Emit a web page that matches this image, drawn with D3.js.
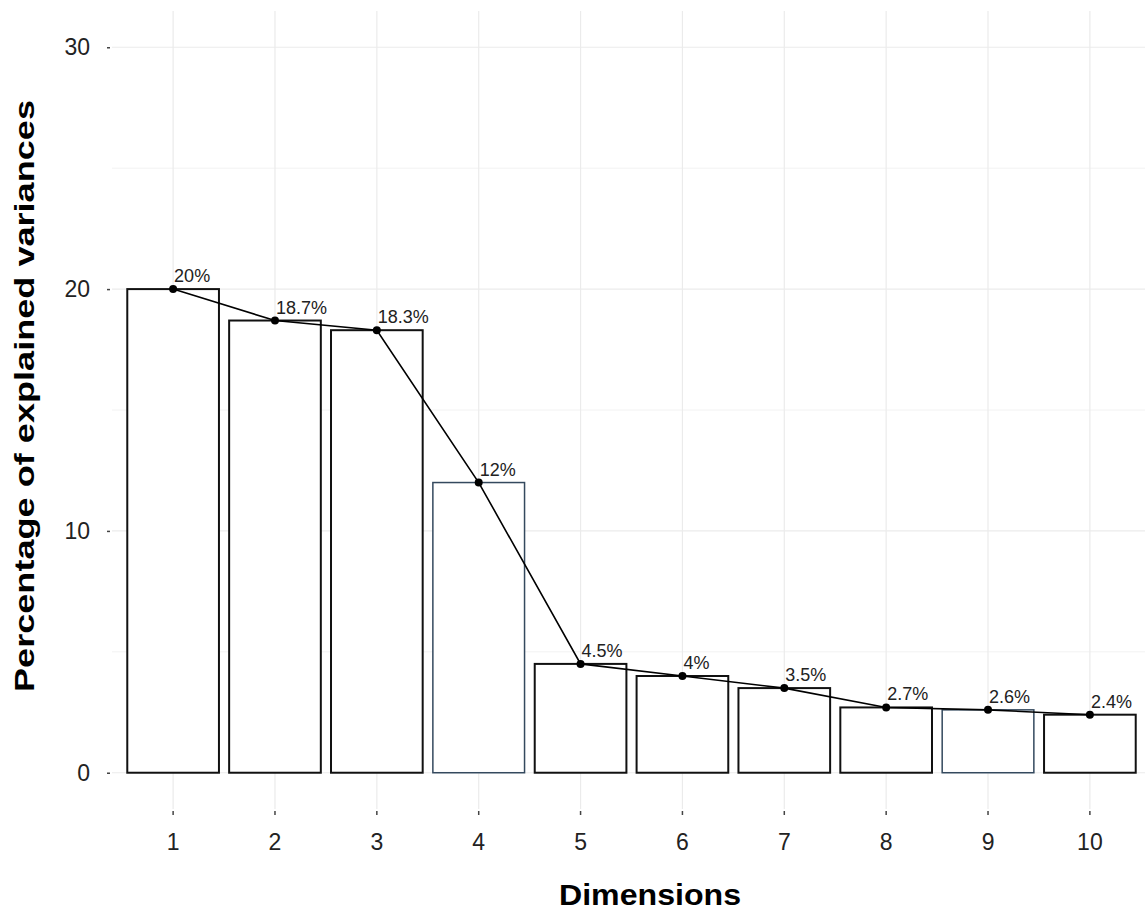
<!DOCTYPE html>
<html><head><meta charset="utf-8">
<script src="https://cdn.jsdelivr.net/npm/d3@7"></script>
<style>body{margin:0;background:#fff}svg{display:block}</style>
</head><body>
<svg id="chart" width="1145" height="915"></svg>
<script>
const dimensions = ["1","2","3","4","5","6","7","8","9","10"];
const variances = [20, 18.7, 18.3, 12, 4.5, 4, 3.5, 2.7, 2.6, 2.4];
const valueLabels = ["20%","18.7%","18.3%","12%","4.5%","4%","3.5%","2.7%","2.6%","2.4%"];
const yTicks = [0, 10, 20, 30];
const yMinor = [5, 15, 25];
const xTitle = "Dimensions";
const yTitle = "Percentage of explained variances";

const svg = d3.select("#chart");
const panel = {left: 112, right: 1151, top: 11, bottom: 809};

const y = d3.scaleLinear().domain([-1.5, 31.5]).range([panel.bottom, panel.top]);
const step = (panel.right - panel.left) / (dimensions.length + 0.2);
const x = d3.scaleBand().domain(dimensions)
  .range([panel.left + 0.6*step - step/2, panel.right - 0.6*step + step/2])
  .paddingInner(0.1).paddingOuter(0.05);
const cx = d => x(d) + x.bandwidth()/2;

// grid
const g = svg.append("g");
g.selectAll(".ymin").data(yMinor).enter().append("line")
  .attr("x1", panel.left).attr("x2", 1145).attr("y1", d=>y(d)).attr("y2", d=>y(d))
  .attr("stroke", "#f2f2f2").attr("stroke-width", 1);
g.selectAll(".ymaj").data(yTicks).enter().append("line")
  .attr("x1", panel.left).attr("x2", 1145).attr("y1", d=>y(d)).attr("y2", d=>y(d))
  .attr("stroke", "#ebebeb").attr("stroke-width", 1.2);
g.selectAll(".xmaj").data(dimensions).enter().append("line")
  .attr("x1", d=>cx(d)).attr("x2", d=>cx(d)).attr("y1", panel.top).attr("y2", panel.bottom)
  .attr("stroke", "#ebebeb").attr("stroke-width", 1.2);

// axes
const yAxis = d3.axisLeft(y).tickValues(yTicks).tickSize(3).tickPadding(17);
const ya = svg.append("g").attr("transform", `translate(${panel.left-2},0)`).call(yAxis);
ya.select(".domain").remove();
ya.selectAll("line").attr("stroke", "#444").attr("stroke-width", 1.5);
ya.selectAll("text").attr("font-family", "Liberation Sans, Arial, sans-serif")
  .attr("font-size", 23).attr("fill", "#222");

const xAxis = d3.axisBottom(x).tickSize(4).tickPadding(19);
const xa = svg.append("g").attr("transform", `translate(0,${panel.bottom+2})`).call(xAxis);
xa.select(".domain").remove();
xa.selectAll("line").attr("stroke", "#444").attr("stroke-width", 1.5);
xa.selectAll("text").attr("font-family", "Liberation Sans, Arial, sans-serif")
  .attr("font-size", 23).attr("fill", "#222");

// bars
const data = dimensions.map((d,i)=>({d, v: variances[i], lab: valueLabels[i], i}));
svg.append("g").selectAll("rect").data(data).enter().append("rect")
  .attr("x", d=>x(d.d)).attr("width", x.bandwidth())
  .attr("y", d=>y(d.v)).attr("height", d=>y(0)-y(d.v))
  .attr("fill", "#fff")
  .attr("stroke", d => (d.i===3 || d.i===8) ? "#34495e" : "#111")
  .attr("stroke-width", d => (d.i===3 || d.i===8) ? 1.5 : 2);

// line + points
const line = d3.line().x(d=>cx(d.d)).y(d=>y(d.v));
svg.append("path").datum(data).attr("d", line)
  .attr("fill", "none").attr("stroke", "#000").attr("stroke-width", 1.6);
svg.append("g").selectAll("circle").data(data).enter().append("circle")
  .attr("cx", d=>cx(d.d)).attr("cy", d=>y(d.v)).attr("r", 4).attr("fill", "#000");

// value labels
svg.append("g").selectAll("text").data(data).enter().append("text")
  .attr("x", d=>cx(d.d)+1).attr("y", d=>y(d.v)-7)
  .attr("font-family", "Liberation Sans, Arial, sans-serif").attr("font-size", 18)
  .attr("fill", "#222").text(d=>d.lab);

// titles
svg.append("text").attr("x", 650).attr("y", 905).attr("text-anchor", "middle")
  .attr("font-family", "Liberation Sans, Arial, sans-serif").attr("font-weight", "bold")
  .attr("font-size", 30).attr("fill", "#000")
  .attr("textLength", 182).attr("lengthAdjust", "spacingAndGlyphs").text(xTitle);
svg.append("text").attr("transform", "translate(34,396) rotate(-90)").attr("text-anchor", "middle")
  .attr("font-family", "Liberation Sans, Arial, sans-serif").attr("font-weight", "bold")
  .attr("font-size", 28).attr("fill", "#000")
  .attr("textLength", 592).attr("lengthAdjust", "spacingAndGlyphs").text(yTitle);
</script>
</body></html>
